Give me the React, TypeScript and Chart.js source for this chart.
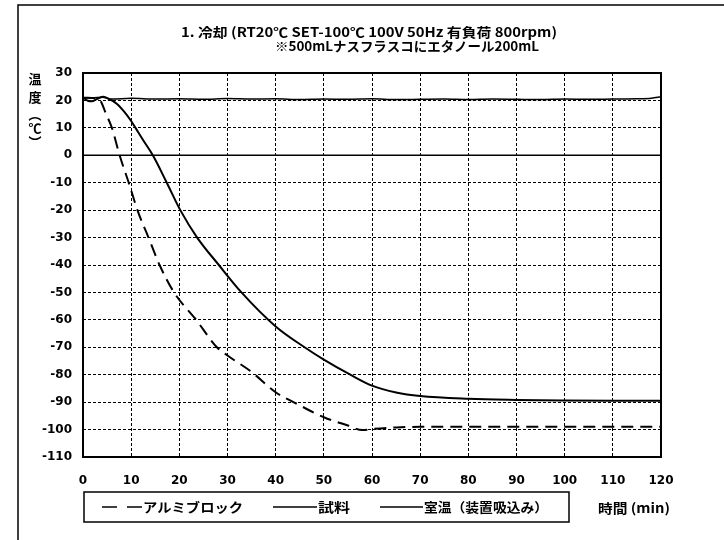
import React, { useEffect, useRef } from "react";
import { Chart, registerables } from "chart.js";

Chart.register(...registerables);

// ---------- data ----------
const xMin = 0;
const xMax = 120;
const xStep = 10;
const yMin = -110;
const yMax = 30;
const yStep = 10;

const titleLine1 = "1. 冷却 (RT20℃ SET-100℃ 100V 50Hz 有負荷 800rpm)";
const titleLine2 = "※500mLナスフラスコにエタノール200mL";
const yAxisTitleChars = ["温", "度", "︵", "℃", "︶"];
const xAxisTitle = "時間 (min)";
const seriesLabels = ["アルミブロック", "試料", "室温（装置吸込み）"];

const alumTime = [0, 1, 2, 3, 3.6, 4.8, 6.0, 7.6, 9.5, 11.3, 13.6, 15.9, 18.9, 23.5, 27.8, 30, 35, 40, 44.4, 50, 55, 58, 60, 65, 70, 80, 90, 100, 110, 120];
const alumTemp = [21, 21, 20.9, 20.7, 20, 15, 10, 0, -10, -20, -30, -40, -50, -60, -70, -73, -79, -86.4, -90.6, -95.5, -98.5, -100.2, -99.8, -99.2, -99, -99, -99, -99, -99, -99];

const sampleTime = [0, 1, 1.8, 3, 4.2, 5.5, 7, 8.5, 10, 10.9, 12.5, 14.5, 17.4, 20.2, 23.7, 28.2, 32.9, 40, 46, 50, 55.5, 60, 65, 70, 80, 90, 100, 110, 120];
const sampleTemp = [21, 19.9, 19.7, 20.6, 21.3, 20.4, 18.8, 16, 12.5, 10, 5.5, 0, -10, -20, -30, -40, -50, -62.4, -70, -74.5, -80, -84, -86.5, -87.8, -88.8, -89.2, -89.4, -89.5, -89.5];

const roomTime = [0, 2, 4, 6, 10, 15, 20, 25, 30, 35, 40, 45, 50, 55, 60, 65, 70, 75, 80, 85, 90, 95, 100, 105, 110, 115, 118, 120];
const roomTemp = [21, 20.9, 21.2, 20.5, 20.8, 20.5, 20.6, 20.4, 20.7, 20.5, 20.6, 20.3, 20.5, 20.4, 20.6, 20.3, 20.4, 20.5, 20.3, 20.5, 20.4, 20.3, 20.5, 20.4, 20.5, 20.6, 20.8, 21.3];

const toPoints = (xs: number[], ys: number[]) => xs.map((x, i) => ({ x, y: ys[i] }));

const FONT = "'DejaVu Sans', 'Noto Sans CJK JP', sans-serif";
const JFONT = "'Noto Sans CJK JP', 'DejaVu Sans', sans-serif";

function fitText(ctx: CanvasRenderingContext2D, text: string, x: number, y: number, width: number) {
  const w = ctx.measureText(text).width;
  const sx = w > 0 ? width / w : 1;
  ctx.save();
  ctx.translate(x, y);
  ctx.scale(sx, 1);
  ctx.textAlign = "left";
  ctx.fillText(text, 0, 0);
  ctx.restore();
}

const decorPlugin = {
  id: "decor",
  beforeDatasetsDraw(chart: any) {
    const { ctx, chartArea, scales } = chart;
    const y0 = scales.y.getPixelForValue(0);
    ctx.save();
    ctx.strokeStyle = "#000";
    ctx.lineWidth = 1.5;
    ctx.setLineDash([]);
    ctx.beginPath();
    ctx.moveTo(chartArea.left, y0);
    ctx.lineTo(chartArea.right, y0);
    ctx.stroke();
    ctx.restore();
  },
  afterDraw(chart: any) {
    const { ctx, chartArea } = chart;
    ctx.save();
    ctx.fillStyle = "#000";
    ctx.strokeStyle = "#000";
    ctx.setLineDash([]);

    // outer frame (top + left)
    ctx.lineWidth = 1.5;
    ctx.beginPath();
    ctx.moveTo(724, 5);
    ctx.lineTo(18, 5);
    ctx.lineTo(18, 540);
    ctx.stroke();

    // plot border
    ctx.lineWidth = 2;
    ctx.strokeRect(chartArea.left, chartArea.top, chartArea.right - chartArea.left, chartArea.bottom - chartArea.top);

    // title
    ctx.textBaseline = "middle";
    ctx.font = `bold 13px ${JFONT}`;
    fitText(ctx, titleLine1, 181, 32, 376);
    fitText(ctx, titleLine2, 275, 46, 264);

    // y axis title (vertical stacked)
    ctx.font = `bold 13px ${JFONT}`;
    ctx.textAlign = "center";
    const ys = [79, 97, 114, 128, 142];
    yAxisTitleChars.forEach((c, i) => ctx.fillText(c, 35, ys[i]));

    // x axis title
    ctx.font = `bold 13px ${JFONT}`;
    fitText(ctx, xAxisTitle, 598, 508, 72);

    // legend box
    ctx.lineWidth = 1.5;
    ctx.strokeRect(84, 492, 485, 30);
    const ds = chart.data.datasets;
    const items = [
      { x1: 102, x2: 142, tx: 143, tw: 100, dash: [15, 10] },
      { x1: 273, x2: 317, tx: 318, tw: 32, dash: [] },
      { x1: 380, x2: 423, tx: 424, tw: 124, dash: [] },
    ];
    const ly = 507;
    items.forEach((it, i) => {
      ctx.save();
      ctx.lineWidth = 1.5;
      ctx.strokeStyle = ds[i].borderColor;
      ctx.setLineDash(it.dash);
      ctx.beginPath();
      ctx.moveTo(it.x1, ly);
      ctx.lineTo(it.x2, ly);
      ctx.stroke();
      ctx.restore();
      ctx.font = `bold 13px ${JFONT}`;
      ctx.textBaseline = "middle";
      fitText(ctx, ds[i].label, it.tx, ly, it.tw);
    });
    ctx.restore();
  },
};

export default function App() {
  const ref = useRef<HTMLCanvasElement | null>(null);
  useEffect(() => {
    if (!ref.current) return;
    const chart = new Chart(ref.current, {
      type: "line",
      data: {
        datasets: [
          {
            label: seriesLabels[0],
            data: toPoints(alumTime, alumTemp),
            borderColor: "#000",
            borderWidth: 2,
            borderDash: [12, 7],
            pointRadius: 0,
            cubicInterpolationMode: "monotone",
            fill: false,
          },
          {
            label: seriesLabels[1],
            data: toPoints(sampleTime, sampleTemp),
            borderColor: "#000",
            borderWidth: 2,
            pointRadius: 0,
            cubicInterpolationMode: "monotone",
            fill: false,
          },
          {
            label: seriesLabels[2],
            data: toPoints(roomTime, roomTemp),
            borderColor: "#000",
            borderWidth: 1.5,
            pointRadius: 0,
            cubicInterpolationMode: "monotone",
            fill: false,
          },
        ],
      },
      options: {
        animation: false,
        responsive: false,
        layout: { padding: { top: 73, right: 63, left: 0, bottom: 0 } },
        plugins: {
          legend: { display: false },
          title: { display: false },
          tooltip: { enabled: false },
        },
        scales: {
          x: {
            type: "linear",
            min: xMin,
            max: xMax,
            afterFit: (s: any) => {
              s.height = 83;
            },
            ticks: {
              stepSize: xStep,
              autoSkip: false,
              maxRotation: 0,
              padding: 17,
              color: "#000",
              font: { family: FONT, weight: "bold", size: 12 },
            },
            grid: { color: "#000", lineWidth: 1, drawTicks: false },
            border: { display: false, dash: [3, 2] },
          },
          y: {
            type: "linear",
            min: yMin,
            max: yMax,
            afterFit: (s: any) => {
              s.width = 83;
            },
            ticks: {
              stepSize: yStep,
              autoSkip: false,
              padding: 11,
              color: "#000",
              font: { family: FONT, weight: "bold", size: 12 },
            },
            grid: { color: "#000", lineWidth: 1, drawTicks: false },
            border: { display: false, dash: [3, 2] },
          },
        },
      },
      plugins: [decorPlugin],
    } as any);
    return () => chart.destroy();
  }, []);
  return (
    <div style={{ position: "fixed", left: 0, top: 0, width: 724, height: 540, background: "#fff" }}>
      <canvas ref={ref} width={724} height={540} />
    </div>
  );
}
